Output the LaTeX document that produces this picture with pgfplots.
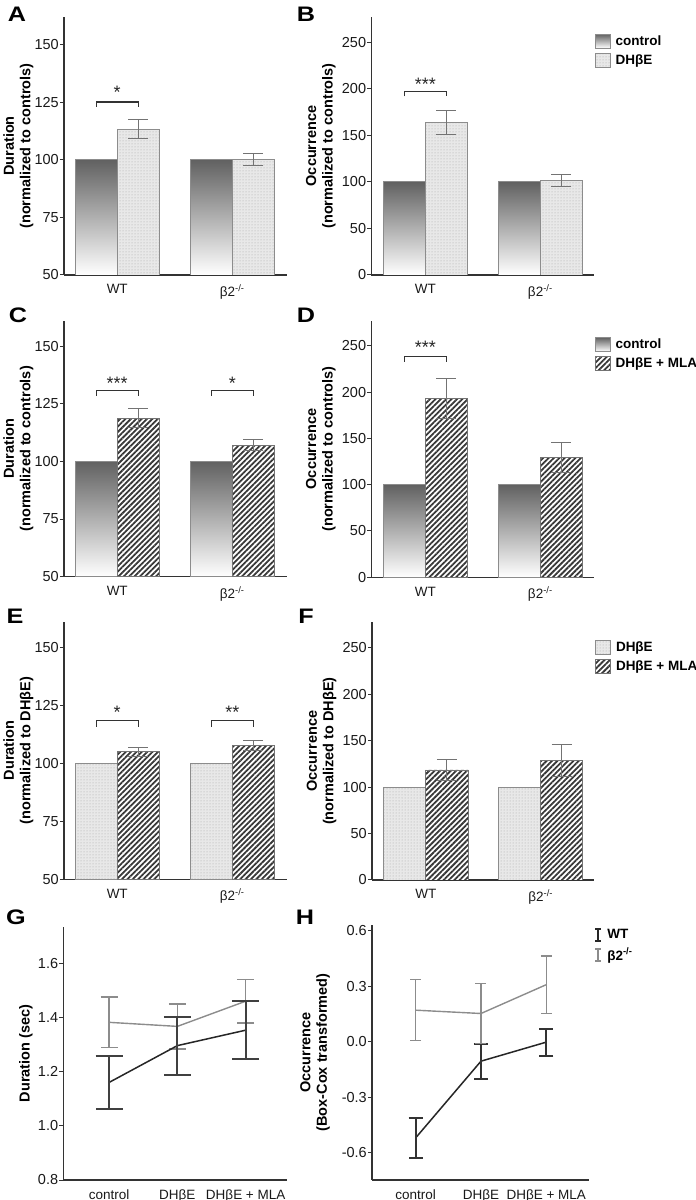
\documentclass[border=0pt]{standalone}
\usepackage{pgfplots}
\pgfplotsset{compat=1.18}
\usetikzlibrary{patterns,patterns.meta}
\usepackage{fontspec}
\setmainfont{Liberation Sans}
\newcommand\tickf{\fontsize{14.5}{16}\selectfont}
\newcommand\xtickf{\fontsize{13.5}{16}\selectfont}
\newcommand\labf{\fontsize{14.5}{16.5}\selectfont\bfseries}
\newcommand\legf{\fontsize{13.5}{16}\selectfont\bfseries}
\newcommand\panf{\fontsize{21}{24}\selectfont\bfseries}
\newcommand\starf{\fontsize{18}{20}\selectfont}
\newcommand\btwo{β2\textsuperscript{-/-}}
\definecolor{axc}{gray}{0.2}
\definecolor{barline}{gray}{0.55}
\definecolor{errc}{gray}{0.45}
\tikzset{
  brk/.style={draw=black!80, line width=1.3pt},
  star/.style={font=\starf, anchor=base, inner sep=0pt, text=black!85},
}
\pgfplotsset{
  base/.style={
    scale only axis, anchor=south west,
    axis x line*=bottom, axis y line*=left,
    axis line style={draw=axc, line width=1.2pt, -},
    /pgf/number format/assume math mode=true,
    tick style={draw=axc, line width=1pt},
    tick align=outside, major tick length=4pt,
    yticklabel style={font=\tickf, text=black!90, inner sep=1pt},
    xticklabel style={font=\xtickf, text=black!90, yshift=-2pt},
    xtick style={draw=none},
    ylabel style={font=\labf, align=center, anchor=center},
    legend style={draw=none, fill=none, inner sep=0pt, row sep=4pt, column sep=3pt, font=\legf,
      cells={anchor=west}, anchor=north west},
    legend cell align=left,
  },
  bars/.style={xtick={1,2}, xticklabels={WT,\btwo}},
  boxleg/.style={legend image code/.code={\draw[##1] (0pt,-7pt) rectangle (15pt,7pt);}},
  ctrl/.style={ybar, bar width=0.368, bar shift=0pt, draw=barline, line width=0.8pt,
    top color=black!62, bottom color=white, boxleg},
  dh/.style={ybar, bar width=0.368, bar shift=0pt, draw=barline, line width=0.8pt,
    fill=black!9, postaction={pattern=dots, pattern color=black!35}, boxleg},
  mla/.style={ybar, bar width=0.368, bar shift=0pt, draw=black!55, line width=0.8pt,
    fill=white, postaction={pattern={Lines[angle=45,distance=3.8pt,line width=1.8pt]}, pattern color=black!78}, boxleg},
  err/.style={error bars/.cd, y dir=both, y explicit,
    error bar style={draw=errc, line width=1pt},
    error mark options={rotate=90, draw=errc, mark size=10pt, line width=1pt}},
}
\begin{document}
\begin{tikzpicture}
\path[use as bounding box] (0,0) rectangle (696pt,1200pt);
% panel letters
\node[font=\panf, xscale=1.2] at (17pt,1186pt) {A};
\node[font=\panf, xscale=1.2] at (306pt,1186pt) {B};
\node[font=\panf, xscale=1.2] at (18pt,884.7pt) {C};
\node[font=\panf, xscale=1.2] at (306pt,885pt) {D};
\node[font=\panf, xscale=1.2] at (15pt,584.2pt) {E};
\node[font=\panf, xscale=1.2] at (306pt,584pt) {F};
\node[font=\panf, xscale=1.2] at (16pt,282.5pt) {G};
\node[font=\panf, xscale=1.2] at (305pt,283pt) {H};

% A
\begin{axis}[base, bars, at={(64pt,925pt)}, width=223pt, height=258pt,
  xmin=0.537, xmax=2.476, ymin=50, ymax=162, ytick={50,75,100,125,150},
  ylabel={Duration\\(normalized to controls)}, ylabel style={at={(axis description cs:-0.205,0.5)}}]
\addplot[ctrl] coordinates {(0.817,100) (1.817,100)};
\addplot[dh, err] coordinates {(1.183,113.3) +- (0,4.1) (2.183,100) +- (0,2.6)};
\draw[brk] (axis cs:0.817,123) -- (axis cs:0.817,125.1) -- (axis cs:1.183,125.1) -- (axis cs:1.183,123);
\node[star] at (axis cs:1,126.5) {*};
\end{axis}

% B
\begin{axis}[base, bars, at={(371.3pt,925pt)}, width=222.4pt, height=258pt,
  xmin=0.530, xmax=2.464, ymin=0, ymax=277, ytick={0,50,100,150,200,250},
  ylabel={Occurrence\\(normalized to controls)}, ylabel style={at={(axis description cs:-0.2275,0.5)}},
  legend style={at={(1.0045,0.9368)}}]
\addplot[ctrl] coordinates {(0.817,100) (1.817,100)};
\addlegendentry{control}
\addplot[dh, err] coordinates {(1.183,163.8) +- (0,13.2) (2.183,101.8) +- (0,6.3)};
\addlegendentry{DHβE}
\draw[brk] (axis cs:0.817,191.7) -- (axis cs:0.817,197) -- (axis cs:1.183,197) -- (axis cs:1.183,191.7);
\node[star] at (axis cs:1,198.4) {***};
\end{axis}

% C
\begin{axis}[base, bars, at={(64pt,623.3pt)}, width=223pt, height=256pt,
  xmin=0.537, xmax=2.476, ymin=50, ymax=161, ytick={50,75,100,125,150},
  ylabel={Duration\\(normalized to controls)}, ylabel style={at={(axis description cs:-0.205,0.5)}}]
\addplot[ctrl] coordinates {(0.817,100) (1.817,100)};
\addplot[mla, err] coordinates {(1.183,118.8) +- (0,4.3) (2.183,107.1) +- (0,2.6)};
\draw[brk] (axis cs:0.817,128.4) -- (axis cs:0.817,130.8) -- (axis cs:1.183,130.8) -- (axis cs:1.183,128.4);
\draw[brk] (axis cs:1.817,128.4) -- (axis cs:1.817,130.8) -- (axis cs:2.183,130.8) -- (axis cs:2.183,128.4);
\node[star] at (axis cs:1,131) {***};
\node[star] at (axis cs:2,131) {*};
\end{axis}

% D
\begin{axis}[base, bars, at={(371.3pt,622.7pt)}, width=222.4pt, height=256.6pt,
  xmin=0.530, xmax=2.464, ymin=0, ymax=277, ytick={0,50,100,150,200,250},
  ylabel={Occurrence\\(normalized to controls)}, ylabel style={at={(axis description cs:-0.2275,0.5)}},
  legend style={at={(1.0045,0.9377)}}]
\addplot[ctrl] coordinates {(0.817,100) (1.817,100)};
\addlegendentry{control}
\addplot[mla, err] coordinates {(1.183,193) +- (0,21.7) (2.183,129.2) +- (0,16.5)};
\addlegendentry{DHβE + MLA}
\draw[brk] (axis cs:0.817,232.8) -- (axis cs:0.817,238.2) -- (axis cs:1.183,238.2) -- (axis cs:1.183,232.8);
\node[star] at (axis cs:1,241.4) {***};
\end{axis}

% E
\begin{axis}[base, bars, at={(64pt,320.7pt)}, width=223pt, height=257.6pt,
  xmin=0.537, xmax=2.476, ymin=50, ymax=161.2, ytick={50,75,100,125,150},
  ylabel={Duration\\(normalized to DHβE)}, ylabel style={at={(axis description cs:-0.205,0.5)}}]
\addplot[dh] coordinates {(0.817,100) (1.817,100)};
\addplot[mla, err] coordinates {(1.183,105.1) +- (0,2.0) (2.183,107.7) +- (0,2.2)};
\draw[brk] (axis cs:0.817,115.9) -- (axis cs:0.817,118.4) -- (axis cs:1.183,118.4) -- (axis cs:1.183,115.9);
\draw[brk] (axis cs:1.817,115.9) -- (axis cs:1.817,118.4) -- (axis cs:2.183,118.4) -- (axis cs:2.183,115.9);
\node[star] at (axis cs:1,119.3) {*};
\node[star] at (axis cs:2,119.3) {**};
\end{axis}

% F
\begin{axis}[base, bars, at={(372pt,320pt)}, width=222pt, height=257.7pt,
  xmin=0.530, xmax=2.464, ymin=0, ymax=277.5, ytick={0,50,100,150,200,250},
  ylabel={Occurrence\\(normalized to DHβE)}, ylabel style={at={(axis description cs:-0.2275,0.5)}},
  legend style={at={(1.0045,0.934)}}]
\addplot[dh] coordinates {(0.817,100) (1.817,100)};
\addlegendentry{DHβE}
\addplot[mla, err] coordinates {(1.183,118.5) +- (0,11.7) (2.183,128.5) +- (0,17)};
\addlegendentry{DHβE + MLA}
\end{axis}

% G
\begin{axis}[base, at={(63.3pt,20pt)}, width=223.4pt, height=253.3pt,
  xmin=-0.669, xmax=2.6, ymin=0.8, ymax=1.735,
  xtick={0,1,2}, xticklabels={control,DHβE,DHβE + MLA},
  ytick={0.8,1.0,1.2,1.4,1.6},
  yticklabel style={/pgf/number format/.cd, fixed, fixed zerofill, precision=1},
  ylabel={Duration (sec)}, ylabel style={at={(axis description cs:-0.167,0.5)}}]
\addplot[color=black!45, line width=1.4pt, mark=none,
  error bars/.cd, y dir=both, y explicit,
  error bar style={line width=1.4pt, black!45},
  error mark options={rotate=90, mark size=8.5pt, line width=1.4pt, black!45}]
  coordinates {(0,1.382) +- (0,0.093) (1,1.367) +- (0,0.083) (2,1.460) +- (0,0.080)};
\addplot[color=black!85, line width=1.5pt, mark=none,
  error bars/.cd, y dir=both, y explicit,
  error bar style={line width=2pt, black!75},
  error mark options={rotate=90, mark size=13.5pt, line width=2pt, black!75}]
  coordinates {(0,1.160) +- (0,0.097) (1,1.296) +- (0,0.107) (2,1.353) +- (0,0.106)};
\end{axis}

% H
\begin{axis}[base, at={(372pt,20pt)}, width=216.7pt, height=255pt,
  xmin=-0.669, xmax=2.65, ymin=-0.748, ymax=0.632,
  xtick={0,1,2}, xticklabels={control,DHβE,DHβE + MLA},
  ytick={-0.6,-0.3,0,0.3,0.6},
  yticklabel style={/pgf/number format/.cd, fixed, fixed zerofill, precision=1},
  ylabel={Occurrence\\(Box-Cox transformed)}, ylabel style={at={(axis description cs:-0.263,0.5)}},
  legend style={at={(1.024,0.992)}},
  legend image code/.code={\draw[#1, line width=2.2pt] (0pt,-6pt) -- (0pt,6pt) (-3pt,-6pt) -- (3pt,-6pt) (-3pt,6pt) -- (3pt,6pt);}]
\addplot[color=black!85, line width=1.5pt, mark=none,
  error bars/.cd, y dir=both, y explicit,
  error bar style={line width=2pt, black!80},
  error mark options={rotate=90, mark size=7pt, line width=2pt, black!80}]
  coordinates {(0,-0.520) +- (0,0.110) (1,-0.105) +- (0,0.095) (2,-0.002) +- (0,0.073)};
\addlegendentry{WT}
\addplot[color=black!45, line width=1.4pt, mark=none,
  error bars/.cd, y dir=both, y explicit,
  error bar style={line width=1.4pt, black!45},
  error mark options={rotate=90, mark size=5.5pt, line width=1.4pt, black!45}]
  coordinates {(0,0.171) +- (0,0.165) (1,0.153) +- (0,0.162) (2,0.309) +- (0,0.155)};
\addlegendentry{\btwo}
\end{axis}
\end{tikzpicture}
\end{document}
